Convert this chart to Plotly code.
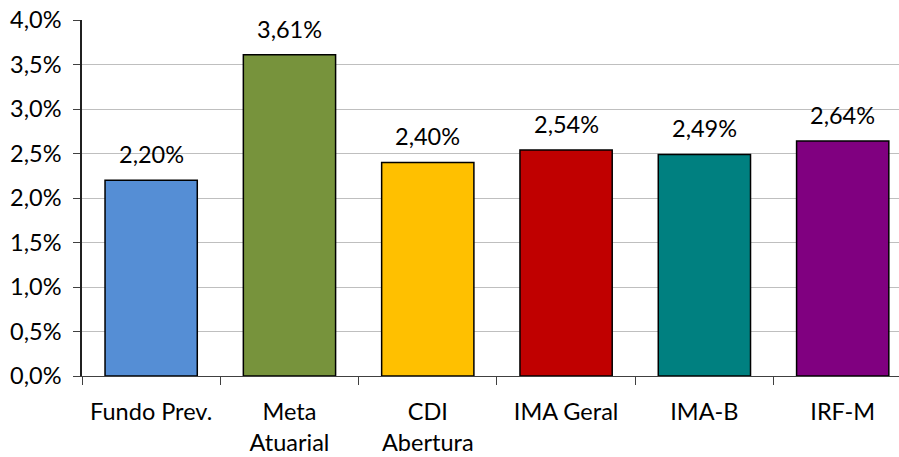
import plotly.graph_objects as go

categories = ["Fundo Prev.", "Meta<br>Atuarial", "CDI<br>Abertura", "IMA Geral", "IMA-B", "IRF-M"]
values = [0.0220, 0.0361, 0.0240, 0.0254, 0.0249, 0.0264]
labels = ["2,20%", "3,61%", "2,40%", "2,54%", "2,49%", "2,64%"]
colors = ["#558ED5", "#77933C", "#FFC000", "#C00000", "#008080", "#800080"]

font = "Lato, Open Sans, sans-serif"
fs = 23.5

fig = go.Figure()
fig.add_trace(go.Bar(
    x=categories, y=values,
    marker=dict(color=colors, line=dict(color="black", width=1.5)),
    width=0.667,
    hoverinfo="skip",
))
for c, v, t in zip(categories, values, labels):
    fig.add_annotation(x=c, y=v, text=t, showarrow=False, yshift=26,
                       font=dict(family=font, size=fs, color="black"))

fig.update_layout(
    width=899, height=457,
    margin=dict(l=82, r=0, t=20, b=81),
    plot_bgcolor="white", paper_bgcolor="white",
    separators=",.",
    showlegend=False,
    bargap=0.333,
)
fig.update_xaxes(
    type="category",
    range=[-0.5, 5.407], tickson="boundaries",
    ticks="outside", ticklen=8, tickcolor="#404040",
    showline=True, linecolor="#404040", linewidth=1,
    showgrid=False, automargin=False, ticklabelstandoff=15,
    tickfont=dict(family=font, size=fs, color="black"),
)
fig.update_yaxes(
    range=[0, 0.04], dtick=0.005, tickformat=".1%",
    ticks="outside", ticklen=7, tickcolor="#404040",
    showline=True, linecolor="#202020", linewidth=1.5,
    showgrid=True, gridcolor="#BFBFBF", gridwidth=1,
    zeroline=False, automargin=False, ticklabelstandoff=7,
    tickfont=dict(family=font, size=fs, color="black"),
)
fig.write_html("out.html", config={"displayModeBar": False},
               post_script="document.body.style.margin='0';document.body.style.overflow='hidden';")
